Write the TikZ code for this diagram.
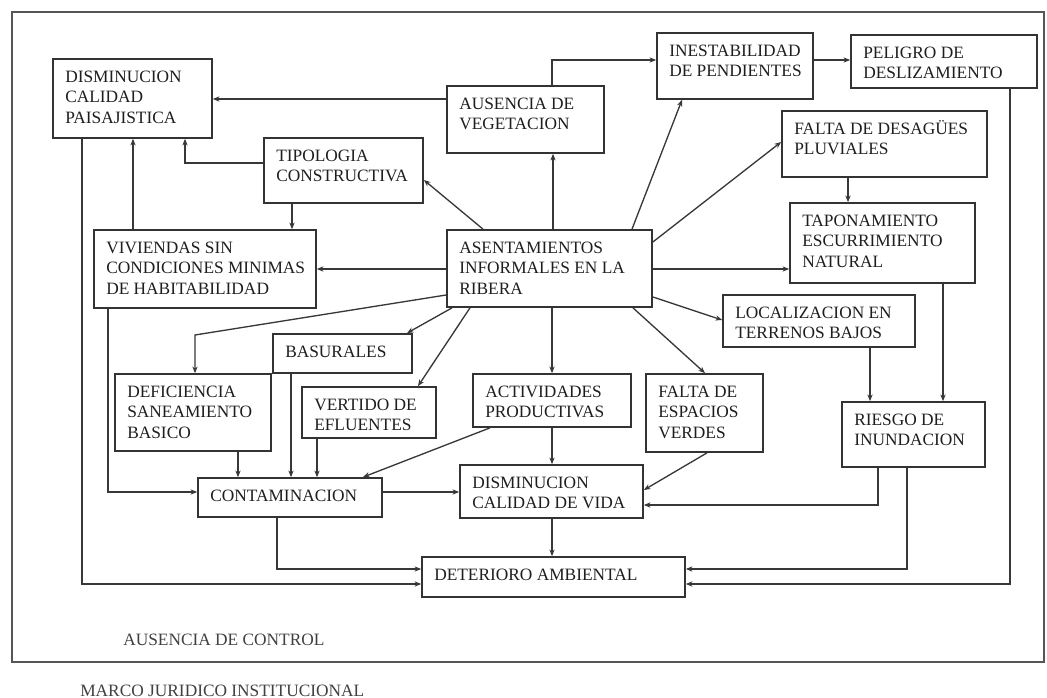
\documentclass[tikz,border=0pt]{standalone}
\usepackage{fontspec}
\setmainfont{Liberation Serif}
\usetikzlibrary{fit,calc,arrows.meta}
\definecolor{boxc}{HTML}{333333}
\definecolor{linec}{HTML}{383838}
\definecolor{txtc}{HTML}{1E1E1E}
\definecolor{framec}{HTML}{555555}
\newcommand\mybx[6]{%
  \node[box, fit={(#2,#3) (#4,#5)}] (#1) {};
  \node[txt] (#1t) at (#2+12,#3+7) {\rule{0pt}{12pt}#6};}
\begin{document}
\begin{tikzpicture}[x=0.75pt,y=-0.75pt,
  box/.style={draw=boxc, line width=1.3pt, inner sep=0pt},
  frame/.style={draw=framec, line width=1.5pt, inner sep=0pt},
  txt/.style={anchor=north west, inner sep=0pt, align=left,
    font=\fontsize{13pt}{15.4pt}\selectfont, text=txtc},
  arr/.style={draw=linec, line width=1pt, -{Stealth[length=5pt,width=4pt]}},
]
\useasboundingbox (0,0) rectangle (1047,698);
\node[frame, fit={(12,12) (1044,662)}] (frm) {};

\mybx{pais}{53}{59}{212}{138}{DISMINUCION\\CALIDAD\\PAISAJISTICA}
\mybx{tipo}{264}{138}{423}{203}{TIPOLOGIA\\CONSTRUCTIVA}
\mybx{aus}{447}{86}{604}{153}{AUSENCIA DE\\VEGETACION}
\mybx{inest}{657}{33}{813}{99}{INESTABILIDAD\\DE PENDIENTES}
\mybx{pel}{851}{35}{1037}{88}{PELIGRO DE\\DESLIZAMIENTO}
\mybx{desag}{782}{111}{987}{177}{FALTA DE DESAGÜES\\PLUVIALES}
\mybx{tap}{790}{203}{975}{283}{TAPONAMIENTO\\ESCURRIMIENTO\\NATURAL}
\mybx{viv}{94}{230}{316}{308}{VIVIENDAS SIN\\CONDICIONES MINIMAS\\DE HABITABILIDAD}
\mybx{asent}{447}{230}{652}{307}{ASENTAMIENTOS\\INFORMALES EN LA\\RIBERA}
\mybx{loc}{723}{295}{915}{347}{LOCALIZACION EN\\TERRENOS BAJOS}
\mybx{bas}{273}{334}{412}{373}{BASURALES}
\mybx{def}{115}{374}{271}{451}{DEFICIENCIA\\SANEAMIENTO\\BASICO}
\mybx{vert}{302}{387}{436}{438}{VERTIDO DE\\EFLUENTES}
\mybx{act}{473}{374}{631}{427}{ACTIVIDADES\\PRODUCTIVAS}
\mybx{fesp}{646}{374}{763}{452}{FALTA DE\\ESPACIOS\\VERDES}
\mybx{ries}{842}{402}{985}{467}{RIESGO DE\\INUNDACION}
\mybx{cont}{198}{478}{382}{517}{CONTAMINACION}
\mybx{vida}{460}{465}{643}{518}{DISMINUCION\\CALIDAD DE VIDA}
\mybx{det}{422}{557}{685}{597}{DETERIORO AMBIENTAL}

\node[txt, anchor=base west, text=txtc!85] (ctrl) at (123,645) {AUSENCIA DE CONTROL};
\node[txt, anchor=base west, text=txtc!85] (marco) at (80,696) {MARCO JURIDICO INSTITUCIONAL};

% from ASENTAMIENTOS
\draw[arr] (asent.north -| 553,0) -- (aus.south -| 553,0);
\draw[arr] (asent.north -| 632,0) -- (inest.south -| 682,0);
\draw[arr] (asent.east |- 0,242) -- (desag.west |- 0,142);
\draw[arr] (asent.north -| 483,0) -- (tipo.east |- 0,180);
\draw[arr] (asent.west |- 0,269) -- (viv.east |- 0,269);
\draw[arr] (asent.east |- 0,269) -- (tap.west |- 0,269);
\draw[arr] (asent.west |- 0,295) -- (195,335) -- (def.north -| 195,0);
\draw[arr] (asent.south -| 452,0) -- (bas.north -| 407,0);
\draw[arr] (asent.south -| 470,0) -- (vert.north -| 418,0);
\draw[arr] (asent.south -| 552,0) -- (act.north -| 552,0);
\draw[arr] (asent.south -| 633,0) -- (fesp.north -| 705,0);
\draw[arr] (asent.east |- 0,297) -- (loc.west |- 0,320);

% upper left
\draw[arr] (tipo.west |- 0,163) -| (pais.south -| 185,0);
\draw[arr] (tipo.south -| 292,0) -- (viv.north -| 292,0);
\draw[arr] (viv.north -| 133,0) -- (pais.south -| 133,0);
\draw[arr] (aus.west |- 0,99) -- (pais.east |- 0,99);
\draw[arr] (aus.north -| 552,0) |- (inest.west |- 0,60);
\draw[arr] (inest.east |- 0,60) -- (pel.west |- 0,60);

% right column
\draw[arr] (desag.south -| 848,0) -- (tap.north -| 848,0);
\draw[arr] (loc.south -| 870,0) -- (ries.north -| 870,0);
\draw[arr] (tap.south -| 943,0) -- (ries.north -| 943,0);

% towards CONTAMINACION
\draw[arr] (viv.south -| 108,0) |- (cont.west |- 0,492);
\draw[arr] (def.south -| 238,0) -- (cont.north -| 238,0);
\draw[arr] (bas.south -| 291,0) -- (cont.north -| 291,0);
\draw[arr] (vert.south -| 317,0) -- (cont.north -| 317,0);
\draw[arr] (act.south -| 490,0) -- (cont.north -| 363,0);

% towards CALIDAD DE VIDA
\draw[arr] (cont.east |- 0,492) -- (vida.west |- 0,492);
\draw[arr] (act.south -| 552,0) -- (vida.north -| 552,0);
\draw[arr] (fesp.south -| 707,0) -- (vida.east |- 0,490);
\draw[arr] (ries.south -| 878,0) |- (vida.east |- 0,505);

% towards DETERIORO
\draw[arr] (vida.south -| 552,0) -- (det.north -| 552,0);
\draw[arr] (cont.south -| 277,0) |- (det.west |- 0,569);
\draw[arr] (pais.south -| 82,0) |- (det.west |- 0,584);
\draw[arr] (ries.south -| 907,0) |- (det.east |- 0,569);
\draw[arr] (pel.south -| 1010,0) |- (det.east |- 0,584);
\end{tikzpicture}
\end{document}
